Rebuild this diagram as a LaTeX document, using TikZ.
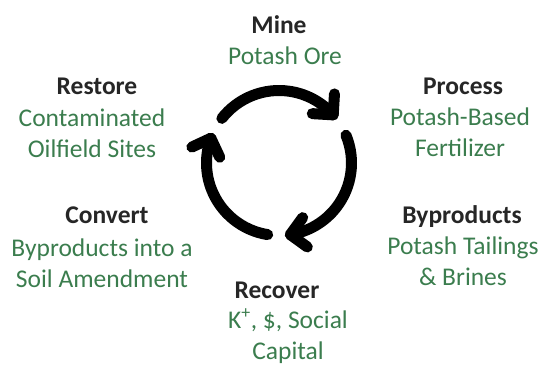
\documentclass[tikz,border=0pt]{standalone}
\usepackage{fontspec}
\setmainfont{Carlito}
\usepackage{tikz}
\definecolor{headgray}{RGB}{38,38,38}
\definecolor{potgreen}{RGB}{59,125,78}
\newcommand{\cycr}{72.5}
\newcommand{\barb}{21}

\begin{document}
\begin{tikzpicture}[x=1pt,y=1pt]
    \tikzset{head/.style={font=\fontsize{25.5}{31}\selectfont\bfseries, text=headgray, anchor=base, inner sep=0pt}}
    \tikzset{leaf/.style={font=\fontsize{25.5}{31}\selectfont, text=potgreen, anchor=base, inner sep=0pt, align=center}}
    \tikzset{cyc/.style={line width=11pt, line cap=round, line join=round}}
    \useasboundingbox (0,0) rectangle (543,-365);
    \coordinate (c) at (279,-163);
    \foreach \s/\e in {142/41.6, 22.5/-81, 261/160}{
        \draw[cyc] ([shift={(\s:\cycr)}]c) arc[start angle=\s, end angle=\e, radius=\cycr] coordinate (tip);
        \draw[cyc] ([shift={(\e+45:\barb)}]tip) -- (tip) -- ([shift={(\e+135:\barb)}]tip);
    }
    \node[head] (mine) at (279,-33) {Mine};
    \node[leaf] (minetxt) at (285,-64) {Potash Ore};
    \node[head] (process) at (463,-94) {Process};
    \node[leaf] (processtxt) at (460,-156) {Potash-Based\\Fertilizer};
    \node[head] (byprod) at (462,-223) {Byproducts};
    \node[leaf] (byprodtxt) at (463,-285) {Potash Tailings\\\& Brines};
    \node[head] (recover) at (277,-298) {Recover};
    \node[leaf] (recovertxt) at (288,-359) {K\textsuperscript{+}, \$, Social\\Capital};
    \node[head] (convert) at (107,-223) {Convert};
    \node[leaf] (converttxt) at (102,-287) {Byproducts into a\\Soil Amendment};
    \node[head] (restore) at (97,-94) {Restore};
    \node[leaf] (restoretxt) at (92,-157) {Contaminated\\Oilfield Sites};
\end{tikzpicture}
\end{document}
